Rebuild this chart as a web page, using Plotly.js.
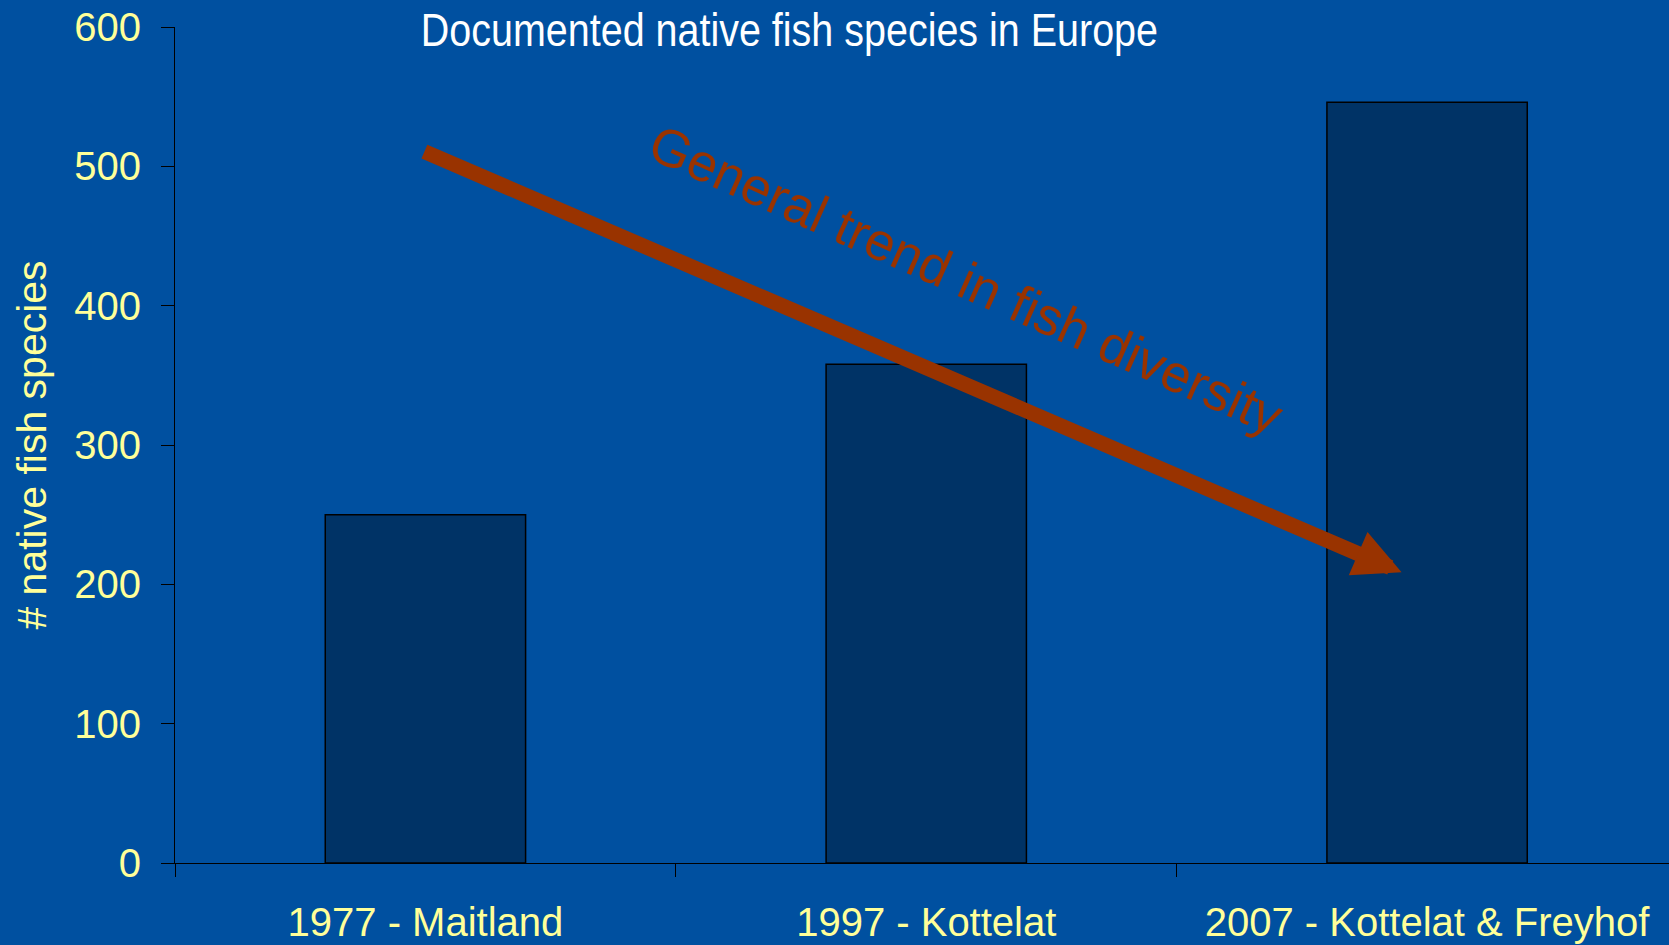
<!DOCTYPE html>
<html>
<head>
<meta charset="utf-8">
<script src="https://cdn.plot.ly/plotly-3.0.1.min.js"></script>
<style>
  html, body { margin: 0; padding: 0; background: #0050A0; overflow: hidden; }
  #chart { width: 1669px; height: 945px; }
</style>
</head>
<body>
<div id="chart"></div>
<script>
// ---- data ----
const categories = ['1977 - Maitland', '1997 - Kottelat', '2007 - Kottelat & Freyhof'];
const nativeSpecies = [250, 358, 546];
const yTickValues = [0, 100, 200, 300, 400, 500, 600];

const chartTitle = 'Documented native fish species in Europe';
const yAxisTitle = '# native fish species';
const trendLabel = 'General trend in fish diversity';

// trend arrow endpoints (data coordinates) and label anchor
const trendStart = { x: -0.005, y: 511 };
const trendEnd = { x: 1.949, y: 208.6 };
const trendLabelPos = { x: 1.08, y: 419 };

const BG = '#0050A0';
const BAR = '#003366';
const YELLOW = '#FFFF99';
const RUST = '#993300';
const FONT = 'Liberation Sans, Arial, sans-serif';

const trace = {
  type: 'bar',
  x: categories,
  y: nativeSpecies,
  width: 0.4,
  marker: { color: BAR, line: { color: '#000000', width: 1.5 } },
  hoverinfo: 'x+y'
};

const layout = {
  width: 1669,
  height: 945,
  margin: { l: 175, r: 0, t: 27, b: 82, pad: 0 },
  paper_bgcolor: BG,
  plot_bgcolor: BG,
  showlegend: false,
  font: { family: FONT, color: YELLOW, size: 40 },
  title: {
    text: chartTitle,
    font: { family: FONT, size: 47, color: '#FFFFFF' },
    x: 0.473, xanchor: 'center', xref: 'container',
    y: 0.969, yanchor: 'middle', yref: 'container'
  },
  xaxis: {
    type: 'category',
    range: [-0.5, 2.483],
    tickson: 'boundaries',
    ticks: 'outside',
    ticklen: 13,
    tickwidth: 1,
    tickcolor: '#000000',
    showline: true,
    linecolor: '#000000',
    linewidth: 1,
    showgrid: false,
    zeroline: false,
    ticklabelstandoff: 24,
    tickfont: { family: FONT, size: 40, color: YELLOW },
    fixedrange: true
  },
  yaxis: {
    range: [0, 600],
    tickvals: yTickValues,
    ticks: 'outside',
    ticklen: 13,
    tickwidth: 1,
    tickcolor: '#000000',
    showline: true,
    linecolor: '#000000',
    linewidth: 1,
    showgrid: false,
    zeroline: false,
    ticklabelstandoff: 12,
    tickfont: { family: FONT, size: 40, color: YELLOW },
    title: { text: yAxisTitle, font: { family: FONT, size: 41, color: YELLOW }, standoff: 14 },
    fixedrange: true
  },
  annotations: [
    {
      xref: 'x', yref: 'y', axref: 'x', ayref: 'y',
      x: trendEnd.x, y: trendEnd.y,
      ax: trendStart.x, ay: trendStart.y,
      text: '',
      showarrow: true,
      arrowhead: 2,
      arrowsize: 0.63,
      arrowwidth: 15,
      arrowcolor: RUST
    },
    {
      xref: 'x', yref: 'y',
      x: trendLabelPos.x, y: trendLabelPos.y,
      text: trendLabel,
      showarrow: false,
      textangle: 24,
      font: { family: FONT, size: 53, color: RUST },
      xanchor: 'center', yanchor: 'middle'
    }
  ]
};

Plotly.newPlot('chart', [trace], layout, { displayModeBar: false, staticPlot: true }).then(function (gd) {
  // the original title is set in a narrow face: condense it horizontally around its centre
  const t = gd.querySelector('.gtitle');
  if (t) {
    const bb = t.getBBox();
    const cx = bb.x + bb.width / 2;
    const k = 0.84;
    t.setAttribute('transform', 'translate(' + (cx * (1 - k)) + ',0) scale(' + k + ',1)');
  }
});
</script>
</body>
</html>
